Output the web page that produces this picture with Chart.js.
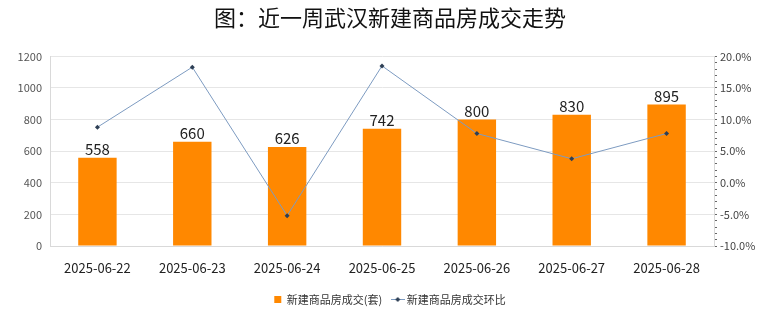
<!DOCTYPE html>
<html>
<head>
<meta charset="utf-8">
<script src="https://cdn.jsdelivr.net/npm/chart.js@4.4.1/dist/chart.umd.min.js"></script>
<style>
  html, body { margin: 0; padding: 0; background: #fff; }
  #wrap { width: 780px; height: 328px; }
</style>
</head>
<body>
<div id="wrap"><canvas id="trendChart" width="780" height="328"></canvas></div>
<script>
  const dates = ['2025-06-22', '2025-06-23', '2025-06-24', '2025-06-25', '2025-06-26', '2025-06-27', '2025-06-28'];
  const deals = [558, 660, 626, 742, 800, 830, 895];
  const dealRatio = [8.8, 18.3, -5.2, 18.5, 7.8, 3.8, 7.8];

  const cjk = '"Noto Sans CJK SC", "Noto Sans", sans-serif';
  const lineColor = '#7d9bc1';
  const dotColor = '#2e3f55';

  // legend swatch for the line series: short stroke with a diamond
  const lineSwatch = document.createElement('canvas');
  lineSwatch.width = 14;
  lineSwatch.height = 7;
  (function () {
    const c = lineSwatch.getContext('2d');
    c.strokeStyle = lineColor;
    c.lineWidth = 1;
    c.beginPath();
    c.moveTo(0, 3.5);
    c.lineTo(14, 3.5);
    c.stroke();
    c.fillStyle = dotColor;
    c.beginPath();
    c.moveTo(7, 1);
    c.lineTo(9.5, 3.5);
    c.lineTo(7, 6);
    c.lineTo(4.5, 3.5);
    c.closePath();
    c.fill();
  })();

  // value labels above each bar
  const barValues = {
    id: 'barValues',
    afterDatasetsDraw(chart) {
      const ctx = chart.ctx;
      const meta = chart.getDatasetMeta(0);
      ctx.save();
      ctx.font = '15px ' + cjk;
      ctx.fillStyle = '#222';
      ctx.textAlign = 'center';
      ctx.textBaseline = 'bottom';
      meta.data.forEach((bar, i) => {
        ctx.fillText(String(deals[i]), bar.x, bar.y - 1);
      });
      ctx.restore();
    }
  };

  const ctx = document.getElementById('trendChart').getContext('2d');
  new Chart(ctx, {
    type: 'bar',
    data: {
      labels: dates,
      datasets: [{
        type: 'bar',
        label: '新建商品房成交(套)',
        data: deals,
        backgroundColor: '#ff8800',
        pointStyle: 'rect',
        categoryPercentage: 1,
        barPercentage: 0.405,
        yAxisID: 'y',
        order: 1
      }, {
        type: 'line',
        label: '新建商品房成交环比',
        data: dealRatio,
        borderColor: lineColor,
        borderWidth: 1,
        backgroundColor: dotColor,
        pointStyle: 'rectRot',
        pointRadius: 2.5,
        pointBorderWidth: 0,
        pointBackgroundColor: dotColor,
        tension: 0,
        yAxisID: 'y1',
        order: 0
      }]
    },
    options: {
      responsive: false,
      animation: false,
      layout: { padding: { left: 0, right: 0, top: 0, bottom: 13 } },
      plugins: {
        title: {
          display: true,
          text: '图：近一周武汉新建商品房成交走势',
          color: '#111',
          font: { family: cjk, size: 22, weight: 'normal' },
          padding: { top: 4, bottom: 26 }
        },
        legend: {
          position: 'bottom',
          labels: {
            color: '#333',
            font: { family: cjk, size: 11 },
            usePointStyle: true,
            boxWidth: 7,
            boxHeight: 7,
            padding: 12,
            sort: (a, b) => a.datasetIndex - b.datasetIndex,
            generateLabels(chart) {
              const items = Chart.defaults.plugins.legend.labels.generateLabels(chart);
              items.forEach(item => {
                if (item.datasetIndex === 1) item.pointStyle = lineSwatch;
              });
              return items;
            }
          }
        },
        tooltip: { enabled: false }
      },
      scales: {
        x: {
          grid: { display: false },
          border: { color: '#d9d9d9' },
          ticks: {
            color: '#222',
            font: { family: cjk, size: 13 },
            padding: 6,
            maxRotation: 0
          },
          afterFit(scale) { scale.height = 36; }
        },
        y: {
          position: 'left',
          min: 0,
          max: 1200,
          ticks: {
            stepSize: 200,
            color: '#555',
            font: { family: cjk, size: 11 },
            padding: 8,
            callback: v => String(v)
          },
          grid: { color: '#e6e6e6', drawTicks: false },
          border: { color: '#d9d9d9' },
          afterFit(scale) { scale.width = 50; }
        },
        y1: {
          position: 'right',
          min: -10,
          max: 20,
          ticks: {
            stepSize: 1,
            autoSkip: false,
            color: '#444',
            font: { family: cjk, size: 11 },
            padding: 3,
            callback: v => (v % 5 === 0 ? v.toFixed(1) + '%' : '')
          },
          grid: { drawOnChartArea: false, color: '#666', tickLength: 3 },
          border: { color: '#d9d9d9' },
          afterFit(scale) { scale.width = 66; }
        }
      }
    },
    plugins: [barValues]
  });
</script>
</body>
</html>
